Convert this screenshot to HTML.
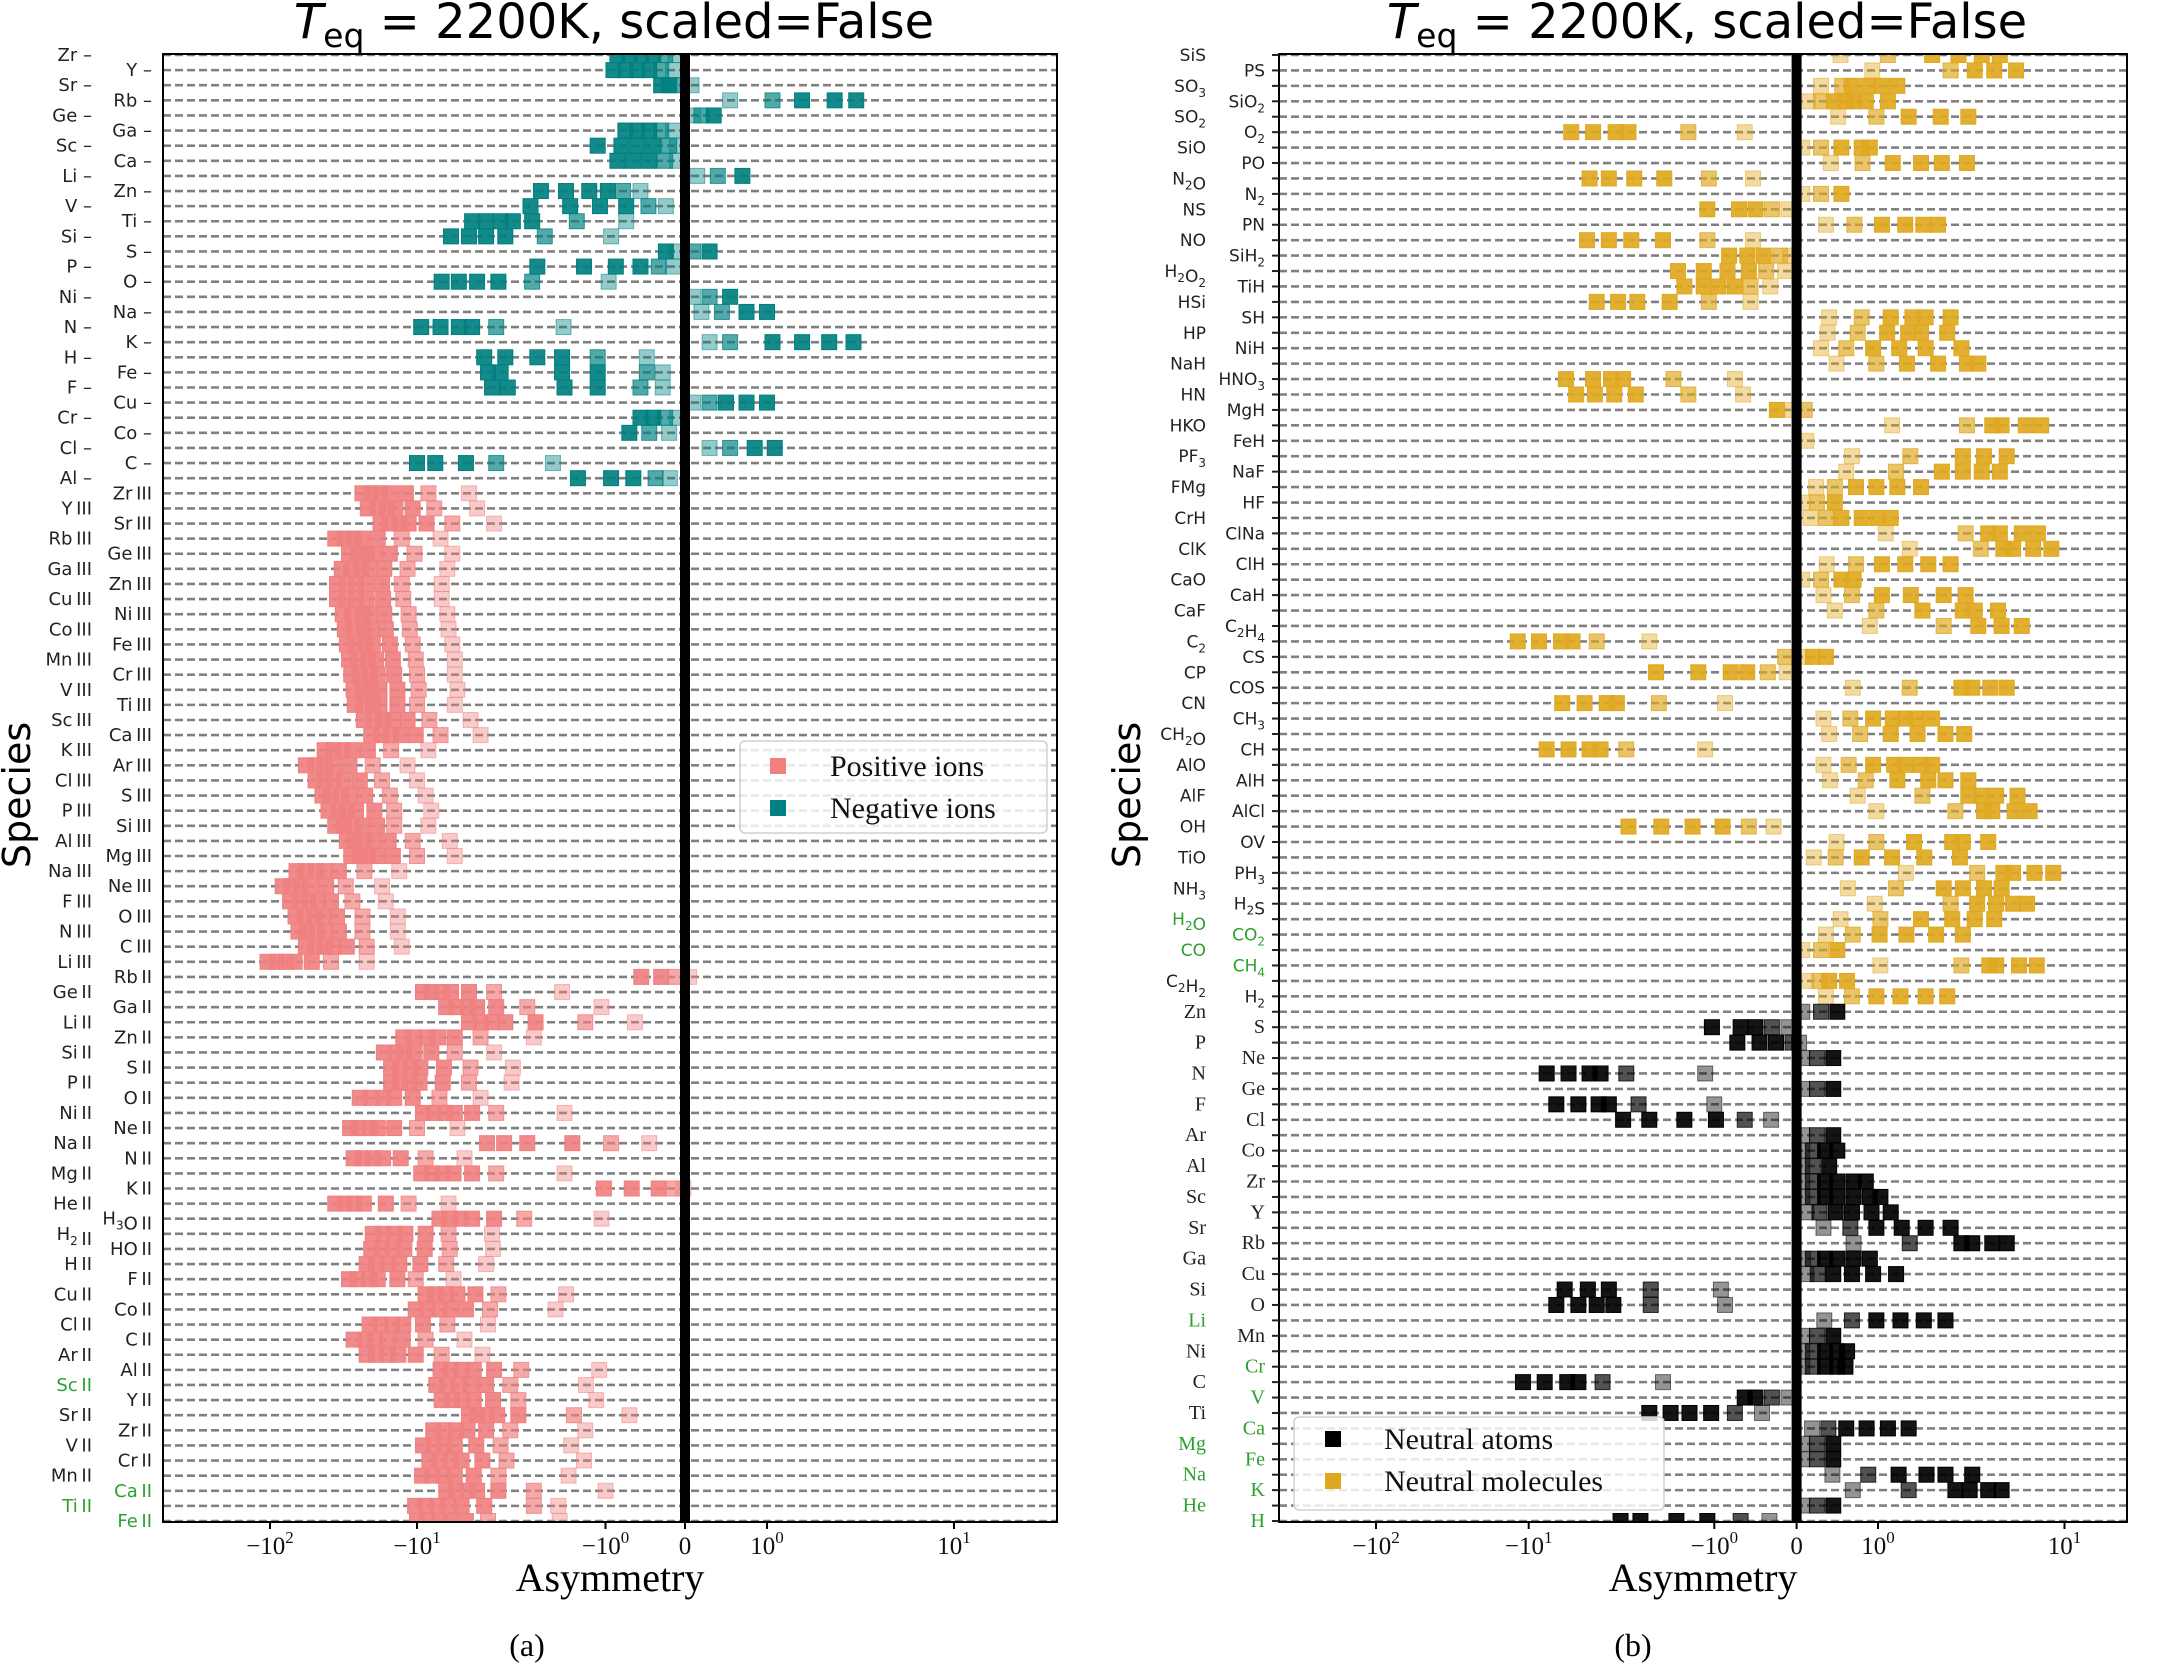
<!DOCTYPE html>
<html><head><meta charset="utf-8"><style>
html,body{margin:0;padding:0;background:#fff;}
svg{display:block;}
</style></head>
<body>
<svg id="fig" xmlns="http://www.w3.org/2000/svg" width="2170" height="1666" viewBox="0 0 2170 1666">
<defs>
<clipPath id="clipL"><rect x="163" y="54" width="895" height="1468"/></clipPath>
<clipPath id="clipR"><rect x="1279" y="54" width="848" height="1468"/></clipPath>
</defs>
<g id="panelA"></g>
<g id="panelB"></g>
</svg>
<script>
// ---------- DATA: panel (a) ----------
const leftLabels = ["Zr","Y","Sr","Rb","Ge","Ga","Sc","Ca","Li","Zn","V","Ti","Si","S","P","O","Ni","Na","N","K","H","Fe","F","Cu","Cr","Co","Cl","C","Al",
"Zr III","Y III","Sr III","Rb III","Ge III","Ga III","Zn III","Cu III","Ni III","Co III","Fe III","Mn III","Cr III","V III","Ti III","Sc III","Ca III","K III","Ar III","Cl III","S III","P III","Si III","Al III","Mg III","Na III","Ne III","F III","O III","N III","C III","Li III",
"Rb II","Ge II","Ga II","Li II","Zn II","Si II","S II","P II","O II","Ni II","Ne II","Na II","N II","Mg II","K II","He II","H3O II","H2 II","HO II","H II","F II","Cu II","Co II","Cl II","C II","Ar II","Al II","Sc II","Y II","Sr II","Zr II","V II","Cr II","Mn II","Ca II","Ti II","Fe II"];
const leftNegCount = 29;
const leftGreen = ["Sc II","Ca II","Ti II","Fe II"];
const leftValues = [
[-0.85,-0.7,-0.55,-0.4,-0.25,-0.12],[-0.9,-0.75,-0.6,-0.45,-0.3,-0.15],[-0.3,-0.2,-0.1,0.08],[0.55,1.07,1.54,2.3,3.0],[0.1,0.2,0.35],
[-0.75,-0.6,-0.45,-0.3,-0.15],[-1.1,-0.8,-0.6,-0.4,-0.2,-0.1],[-0.85,-0.65,-0.45,-0.25,-0.1],[0.15,0.4,0.7],[-2.2,-1.62,-1.22,-0.97,-0.78,-0.56],
[-2.5,-1.54,-1.07,-0.74,-0.46,-0.24],[-5.1,-4.3,-3.6,-3.1,-2.45,-1.42,-0.74],[-6.6,-5.3,-4.3,-3.4,-2.1,-0.93],[-0.24,-0.1,0.1,0.3],[-2.3,-1.3,-0.87,-0.56,-0.33,-0.15],
[-7.4,-6,-4.8,-3.7,-2.45,-0.96],[0.1,0.3,0.55],[0.2,0.45,0.75,1.0],[-9.5,-7.5,-6.0,-5.1,-3.8,-1.67],[0.3,0.55,1.07,1.54,2.15,2.9],
[-4.4,-3.4,-2.3,-1.7,-1.1,-0.48],[-4.2,-3.6,-1.7,-1.1,-0.48,-0.28],[-4.0,-3.3,-1.65,-1.1,-0.56,-0.28],[0.1,0.3,0.5,0.75,1.0],[-0.56,-0.4,-0.25,-0.1],
[-0.7,-0.45,-0.2],[0.3,0.55,0.85,1.1],[-10,-8,-5.5,-3.8,-1.9],[-1.4,-0.93,-0.65,-0.37,-0.19],
[-23.5,-20.4,-17.7,-15.3,-11.9,-8.7,-5.3],[-21.6,-18.5,-16,-14,-10.7,-8.1,-4.8],[-17.7,-15.3,-13.2,-11.4,-8.9,-6.5,-3.9],[-36,-31,-27,-23.5,-18.5,-12.7,-7.5],
[-29,-25,-22,-19.5,-15.3,-10.4,-6.5],[-32.5,-28,-24,-21,-16.7,-11.6,-6.9],[-35,-30,-26,-22,-17.3,-12.7,-7.4],[-35,-30,-26,-22,-17,-12.4,-7.4],
[-32,-27.5,-23.5,-21,-16.7,-11.4,-6.9],[-31,-27,-23,-20.5,-16.3,-11.2,-6.8],[-30,-26,-22.5,-20,-15.3,-10.7,-6.5],[-29,-25,-21.5,-19,-14.6,-10.2,-6.3],
[-28,-24.5,-21,-18.5,-14.3,-10,-6.3],[-27,-23.5,-20.5,-18,-13.6,-9.8,-6.1],[-26.5,-23,-20,-18,-13.6,-10,-6.3],[-23,-19.5,-17,-14.5,-11.6,-8.6,-5.2],
[-20.5,-17.5,-15,-12.8,-10.2,-7.5,-4.6],[-42.5,-37,-32,-27.5,-21.6,-15,-8.7],[-57,-49,-42.5,-37,-28.8,-20,-11.6],[-49,-42.5,-37,-31.5,-24.5,-17.3,-10],
[-44,-38.5,-33,-28.8,-22.5,-15.3,-9],[-40,-34.5,-30,-26,-19.5,-14.3,-8.4],[-36,-31.5,-27.5,-23.5,-18.7,-14.3,-8.7],[-30,-26.5,-23,-20,-15.6,-10.7,-6.7],
[-28,-24.5,-21.5,-18.7,-14.6,-10,-6.3],[-66,-57,-49,-42.5,-34,-22.8,-13.2],[-82,-71,-62,-53,-41.5,-30.5,-17.3],[-73,-63,-54.5,-47,-38.5,-27.5,-16.3],
[-67,-58,-50,-43.5,-35,-23.5,-13.5],[-64,-56,-48.5,-42,-34,-23.5,-13.5],[-57,-49,-42.5,-37,-30,-22,-12.7],[-104,-90,-78,-68,-52,-38.5,-22],
[-0.55,-0.3,-0.12,0.05],[-9.3,-8.4,-7.4,-6.6,-5.3,-3.9,-1.7],[-7,-6.2,-5.4,-4.8,-3.8,-2.6,-1.05],[-5.3,-4.6,-4,-3.4,-2.35,-1.28,-0.63],
[-12.4,-10.5,-8.8,-7.7,-6.3,-4.6,-2.4],[-16.8,-14,-12.2,-10.4,-8.4,-6.3,-3.9],[-15,-13,-11,-9.6,-7.2,-5.2,-3.1],[-15,-13,-11.2,-9.7,-7.3,-5.3,-3.15],
[-24.5,-20.5,-17,-14.3,-10.7,-7.6,-4.6],[-9.3,-8.2,-7.1,-6.3,-5.1,-3.8,-1.65],[-28.5,-25,-21,-18.5,-14.3,-10,-6.1],[-4.25,-3.45,-2.6,-1.5,-0.93,-0.45],
[-27,-23.5,-20,-17,-12.9,-9,-5.6],[-9.5,-8.3,-7.3,-6.4,-5.1,-3.8,-1.65],[-1.02,-0.67,-0.33,-0.15,-0.02],[-36,-31,-27,-23,-16.3,-11.4,-6.8],
[-7.6,-6.7,-5.9,-5.1,-3.9,-2.7,-1.05],[-20,-17,-14.3,-12,-9,-6.8,-4],[-20.5,-17.3,-14.6,-12.2,-9.1,-6.7,-3.95],[-22,-19,-15.8,-13.2,-9.6,-7,-4.3],
[-29,-25.5,-21,-18.5,-13.6,-10.2,-6.4],[-9,-8,-7,-6.1,-4.9,-3.7,-1.62],[-10.2,-8.8,-7.6,-6.6,-5.5,-4.1,-1.84],[-21,-17.6,-14.7,-12.4,-9.3,-6.9,-4.2],
[-27,-22.5,-19.4,-16,-12.5,-9,-5.6],[-22,-19,-15.8,-13.4,-10.2,-7.4,-4.5],[-7.5,-6.6,-5.8,-5,-3.9,-2.8,-1.08],[-7.9,-6.9,-6,-5.2,-4.3,-3.2,-1.27],
[-7.4,-6.5,-5.7,-5,-3.95,-2.9,-1.12],[-5.3,-4.8,-4.25,-3.75,-2.9,-1.47,-0.7],[-8.2,-7.2,-6.2,-5.4,-4.3,-3.2,-1.28],[-9.3,-8.2,-7.2,-6.3,-4.85,-3.6,-1.52],
[-8.6,-7.6,-6.6,-5.8,-4.5,-3.35,-1.3],[-9.4,-8.3,-7.2,-6.3,-5,-3.7,-1.57],[-7,-6.2,-5.4,-4.8,-3.7,-2.4,-1.0],[-10.3,-9,-7.8,-6.8,-5.8,-4.4,-2.4,-1.78],
[-10,-8.8,-7.6,-6.6,-5.5,-4.2,-1.75]
];
// ---------- DATA: panel (b) ----------
const rightLabels = ["SiS","PS","SO3","SiO2","SO2","O2","SiO","PO","N2O","N2","NS","PN","NO","SiH2","H2O2","TiH","HSi","SH","HP","NiH","NaH","HNO3","HN","MgH","HKO","FeH","PF3","NaF","FMg","HF","CrH","ClNa","ClK","ClH","CaO","CaH","CaF","C2H4","C2","CS","CP","COS","CN","CH3","CH2O","CH","AlO","AlH","AlF","AlCl","OH","OV","TiO","PH3","NH3","H2S","H2O","CO2","CO","CH4","C2H2","H2",
"Zn","S","P","Ne","N","Ge","F","Cl","Ar","Co","Al","Zr","Sc","Y","Sr","Rb","Ga","Cu","Si","O","Li","Mn","Ni","Cr","C","V","Ti","Ca","Mg","Fe","Na","K","He","H"];
const rightMolCount = 62;
const rightGreen = ["H2O","CO2","CO","CH4","Li","Cr","V","Ca","Mg","Fe","Na","K","He","H"];
const rightValues = [
[0.54,1.13,1.95,2.7,3.6,4.5],[0.93,2.45,3.3,4.2,5.5],[0.3,0.56,0.68,0.88,1.05,1.27],[0.14,0.3,0.46,0.6,0.7,0.85,1.13],[0.51,0.98,1.46,2.17,3.05],
[-5.9,-4.5,-3.4,-2.9,-1.38,-0.63],[0.07,0.3,0.55,0.8,0.9],[0.42,0.81,1.2,1.7,2.2,3.0],[-4.7,-3.7,-2.7,-1.86,-1.07,-0.53],[0.07,0.3,0.55],
[-1.09,-0.7,-0.5,-0.3,-0.1],[0.36,0.71,1.05,1.4,1.75,2.1],[-4.85,-3.7,-2.8,-1.89,-1.09,-0.53],[-0.82,-0.6,-0.4,-0.2,-0.08],[-1.57,-1.14,-0.84,-0.58,-0.37,-0.14],
[-1.45,-1.14,-0.95,-0.75,-0.56,-0.32],[-4.3,-3.3,-2.6,-1.74,-1.07,-0.56],[0.4,0.8,1.17,1.53,1.8,2.45],[0.38,0.75,1.12,1.45,1.7,2.35],[0.3,0.61,0.94,1.3,1.8,2.8],
[0.49,0.98,1.43,2.1,3.0,3.45],[-6.3,-4.5,-3.6,-3.1,-1.66,-0.75],[-5.55,-4.4,-3.46,-2.65,-1.38,-0.65],[-0.24,-0.05,0.1],[1.19,3.0,4.1,4.6,6.2,7.5],
[0.12],[0.68,1.49,2.85,3.7,4.9],[0.61,1.25,2.2,2.85,3.6,4.5],[0.24,0.47,0.73,0.98,1.27,1.7],[0.07,0.25,0.47],
[0.17,0.36,0.55,0.8,1.0,1.17],[1.1,2.95,3.9,4.5,5.9,7.2],[1.48,3.56,4.7,5.3,6.8,8.5],[0.37,0.73,1.05,1.4,1.86,2.45],[0.07,0.3,0.55,0.7],
[0.33,0.68,1.05,1.5,2.25,2.95],[0.47,0.98,1.73,2.85,3.3,4.4],[0.9,2.25,3.45,4.6,5.9],[-11.8,-8.8,-6.7,-5.8,-4.3,-2.24],[-0.14,0.05,0.2,0.36],
[-2.06,-1.22,-0.8,-0.6,-0.35,-0.12],[0.69,1.48,2.8,3.2,4.0,4.9],[-6.6,-5.0,-3.8,-3.35,-1.99,-0.87],[0.33,0.66,0.94,1.2,1.4,1.6,1.95],[0.4,0.78,1.17,1.63,2.3,2.9],
[-8.0,-6.1,-4.7,-4.1,-2.98,-1.12],[0.33,0.64,0.94,1.22,1.4,1.7,1.95],[0.41,0.85,1.27,1.86,2.3,3.05],[0.75,1.73,3.05,3.6,4.3,5.6],[0.98,2.6,3.7,4.1,5.4,6.5],
[-2.9,-1.93,-1.31,-0.9,-0.58,-0.28],[0.49,0.98,1.56,2.5,2.85,3.9],[0.21,0.48,0.8,1.19,1.77,2.75],[1.41,3.4,4.7,5.3,6.9,8.7],[0.63,1.25,2.25,2.85,3.7,4.6],
[0.96,2.45,3.4,4.3,5.3,6.3],[0.54,1.03,1.7,2.5,3.3,4.2],[0.36,0.69,1.02,1.42,2.05,2.85],[0.07,0.3,0.5],[1.03,2.8,3.95,4.3,5.7,7.1],
[0.12,0.28,0.4,0.62],[0.36,0.68,0.98,1.32,1.8,2.35],
[0.07,0.3,0.5],[-1.03,-0.68,-0.5,-0.3,-0.1],[-0.72,-0.45,-0.25,-0.05,0.03],[0.07,0.25,0.45],[-8.0,-6.1,-4.7,-4.1,-2.98,-1.12],
[0.07,0.25,0.45],[-7.1,-5.4,-4.2,-3.7,-2.56,-1.0],[-3.1,-2.24,-1.45,-0.98,-0.63,-0.31],[0.07,0.25,0.45],[0.07,0.2,0.35,0.5],
[0.07,0.2,0.4],[0.07,0.2,0.35,0.5,0.7,0.85],[0.07,0.2,0.35,0.5,0.7,0.9,1.03],[0.12,0.28,0.48,0.68,0.92,1.17],[0.33,0.66,0.98,1.34,1.8,2.45],
[0.7,1.48,2.8,3.2,4.1,4.9],[0.08,0.2,0.35,0.5,0.7,0.9],[0.12,0.26,0.45,0.68,0.94,1.25],[-6.4,-4.8,-3.7,-2.2,-0.92],[-7.1,-5.4,-4.3,-3.5,-2.2,-0.87],
[0.34,0.68,0.98,1.32,1.76,2.3],[0.07,0.25,0.45],[0.07,0.2,0.35,0.5,0.62],[0.07,0.2,0.35,0.5,0.6],[-10.9,-8.2,-6.2,-5.4,-4.0,-1.89],
[-0.63,-0.5,-0.3,-0.1],[-2.24,-1.72,-1.36,-1.04,-0.75,-0.42],[0.19,0.39,0.61,0.86,1.13,1.46],[0.07,0.25,0.45],[0.07,0.25,0.45],
[0.44,0.88,1.29,1.82,2.3,3.2],[0.69,1.46,2.6,3.1,3.9,4.6],[0.07,0.25,0.45],[-3.2,-2.5,-1.6,-1.09,-0.68,-0.33]
];
const tickValues = [-100,-10,-1,0,1,10];
const tickLabels = [["−10","2"],["−10","1"],["−10","0"],["0",""],["10","0"],["10","1"]];

// ---------- helpers ----------
const NS = "http://www.w3.org/2000/svg";
function el(tag, attrs, parent){
  const e = document.createElementNS(NS, tag);
  for (const k in attrs) e.setAttribute(k, attrs[k]);
  parent.appendChild(e);
  return e;
}
function symlog(a){
  return function(v){
    if (v >= 0){
      if (v <= 1) return a.z + v*(a.p1-a.z);
      return a.p1 + Math.log10(v)*(a.p10-a.p1);
    }
    const u = -v;
    if (u <= 1) return a.z - u*(a.z-a.n1);
    if (u <= 10) return a.n1 - Math.log10(u)*(a.n1-a.n10);
    return a.n10 - Math.log10(u/10)*(a.n10-a.n100);
  };
}
function addLabel(t, name, subDigits){
  for (const ch of name){
    const ts = document.createElementNS(NS, "tspan");
    if (subDigits && /[0-9]/.test(ch)){
      ts.setAttribute("font-size","12");
      ts.setAttribute("dy","5");
      ts.textContent = ch;
      t.appendChild(ts);
      const back = document.createElementNS(NS, "tspan");
      back.setAttribute("dy","-5");
      back.textContent = "";
      t.appendChild(back);
      continue;
    }
    ts.textContent = ch;
    t.appendChild(ts);
  }
}

function drawPanel(cfg){
  const g = document.getElementById(cfg.gid);
  const x = symlog(cfg.anchors);
  const n = cfg.labels.length;
  const rowY = i => cfg.top + i*(cfg.bottom-cfg.top)/(n-1);

  const grid = el("g", {}, g);
  
  
  for (let i=0;i<n;i++){
    const ln = el("line", {x1:cfg.left, x2:cfg.right, y1:rowY(i), y2:rowY(i), stroke:"#808080", "stroke-width":"2.6", "stroke-dasharray":"8 4"}, grid);
    
    
  }

  const marks = el("g", {"clip-path":"url(#"+cfg.clip+")"}, g);
  
  
  for (let i=0;i<n;i++){
    const vals = cfg.values[i] || [];
    const color = cfg.colorFor(i);
    const order = vals.map((v,k)=>[Math.abs(v),k]).sort((a,b)=>a[0]-b[0]).map(p=>p[1]);
    const alpha = {};
    order.forEach((k,r)=>{ alpha[k] = r===0 ? 0.42 : (r===1 ? 0.68 : 0.92); });
    vals.forEach((v,k)=>{
      const cx = x(v), cy = rowY(i);
      const r = el("rect", {x:cx-7.5, y:cy-7.5, width:15, height:15, fill:color, "fill-opacity":alpha[k], stroke:color, "stroke-opacity":Math.min(1,alpha[k]+0.1), "stroke-width":"1"}, marks);
      
      
    });
  }

  const z = el("line", {x1:x(0), x2:x(0), y1:cfg.top-1, y2:cfg.bottom+1, stroke:"#000", "stroke-width":"10"}, g);
  
  

  const fr = el("rect", {x:cfg.left, y:cfg.top-1, width:cfg.right-cfg.left, height:cfg.bottom-cfg.top+2, fill:"none", stroke:"#000", "stroke-width":"2"}, g);
  
  

  const yl = el("g", {}, g);
  
  
  for (let i=0;i<n;i++){
    const name = cfg.labels[i];
    const serif = cfg.serifFor(i);
    const t = el("text", {x:(i%2===0?cfg.colA:cfg.colB), y:rowY(i)+6, "text-anchor":"end",
      "font-family": serif ? '"Liberation Serif","DejaVu Serif",serif' : '"DejaVu Sans","Liberation Sans",sans-serif',
      "font-size": serif ? "20" : cfg.labelSize, fill: cfg.green.includes(name) ? "#2ca02c" : "#222"}, yl);
    
    
    addLabel(t, name.replace(" ", "\u2009"), true);
    if (cfg.dashFor(i)){
      const d = document.createElementNS(NS,"tspan"); d.textContent = " –"; t.appendChild(d);
    }
    if (cfg.ticks){
      const tk = el("line", {x1:cfg.left-7, x2:cfg.left, y1:rowY(i), y2:rowY(i), stroke:"#222", "stroke-width":"2"}, yl);
      
      
    }
  }

  const xt = el("g", {}, g);
  
  
  tickValues.forEach((v,k)=>{
    const px = x(v);
    const tk = el("line", {x1:px, x2:px, y1:cfg.bottom, y2:cfg.bottom+8, stroke:"#000", "stroke-width":"2"}, xt);
    
    
    const t = el("text", {x:px, y:cfg.bottom+33, "text-anchor":"middle", "font-family":'"Liberation Serif","DejaVu Serif",serif', "font-size":"25", fill:"#111"}, xt);
    
    
    const a = document.createElementNS(NS,"tspan"); a.textContent = tickLabels[k][0]; t.appendChild(a);
    if (tickLabels[k][1]){
      const s = document.createElementNS(NS,"tspan"); s.setAttribute("dy","-11"); s.setAttribute("font-size","17"); s.textContent = tickLabels[k][1]; t.appendChild(s);
    }
  });

  const cx = (cfg.left+cfg.right)/2;
  const title = el("text", {x:cx+4, y:38, "text-anchor":"middle", "font-family":'"DejaVu Sans","Liberation Sans",sans-serif', "font-size":"48", fill:"#000"}, g);
  
  
  const tT = document.createElementNS(NS,"tspan"); tT.setAttribute("font-style","italic"); tT.textContent = "T"; title.appendChild(tT);
  const tS = document.createElementNS(NS,"tspan"); tS.setAttribute("font-size","33"); tS.setAttribute("dy","9"); tS.textContent = "eq"; title.appendChild(tS);
  const tR = document.createElementNS(NS,"tspan"); tR.setAttribute("dy","-9"); tR.textContent = " = 2200K, scaled=False"; title.appendChild(tR);

  const xlab = el("text", {x:cx, y:1591, "text-anchor":"middle", "font-family":'"Liberation Serif","DejaVu Serif",serif', "font-size":"40", fill:"#000"}, g);
  
  
  xlab.textContent = "Asymmetry";

  const ylab = el("text", {x:0, y:0, transform:"translate("+cfg.ylabX+",795) rotate(-90)", "text-anchor":"middle", "font-family":'"DejaVu Sans","Liberation Sans",sans-serif', "font-size":"38", fill:"#000"}, g);
  
  
  ylab.textContent = "Species";

  const cap = el("text", {x:cfg.capX, y:1656, "text-anchor":"middle", "font-family":'"Liberation Serif","DejaVu Serif",serif', "font-size":"32", fill:"#000"}, g);
  
  
  cap.textContent = cfg.caption;

  const L = cfg.legend;
  const lg = el("g", {}, g);
  
  
  el("rect", {x:L.x, y:L.y, width:L.w, height:L.h, rx:5, fill:"#fff", "fill-opacity":"0.82", stroke:"#d0d0d0", "stroke-width":"1.5"}, lg);
  L.items.forEach((it,k)=>{
    const yy = L.y + L.first + k*L.gap;
    const sw = el("rect", {x:L.mx-8, y:yy-8, width:16, height:16, fill:it[1]}, lg);
    
    
    const tx = el("text", {x:L.tx, y:yy+10, "font-family":'"Liberation Serif","DejaVu Serif",serif', "font-size":"30", fill:"#111"}, lg);
    
    
    tx.textContent = it[0];
  });
}

const slugify = s => s.toLowerCase().replace(/\s+/g,"-");

drawPanel({
  gid:"panelA", clip:"clipL", left:163, right:1057, top:55, bottom:1521,
  anchors:{n100:270, n10:417, n1:605.5, z:685, p1:767, p10:954},
  labels:leftLabels, values:leftValues, slug:leftLabels.map(slugify),
  colorFor:i => i < leftNegCount ? "#008080" : "#f08080",
  serifFor:i => false, dashFor:i => i < leftNegCount, ticks:false, labelSize:"18",
  green:leftGreen, colA:92, colB:152, ylabX:30, capX:527, caption:"(a)",
  legend:{x:740, y:741, w:307, h:92, first:25, gap:42, mx:778, tx:830, items:[["Positive ions","#f08080"],["Negative ions","#008080"]]}
});
drawPanel({
  gid:"panelB", clip:"clipR", left:1279, right:2127, top:55, bottom:1521,
  anchors:{n100:1376, n10:1528.7, n1:1714.3, z:1796.6, p1:1878, p10:2064.5},
  labels:rightLabels, values:rightValues, slug:rightLabels.map(slugify),
  colorFor:i => i < rightMolCount ? "#dfa820" : "#000000",
  serifFor:i => i >= rightMolCount, dashFor:i => false, ticks:true, labelSize:"17",
  green:rightGreen, colA:1206, colB:1265, ylabX:1140, capX:1633, caption:"(b)",
  legend:{x:1294, y:1417, w:370, h:93, first:22, gap:42, mx:1333, tx:1384, items:[["Neutral atoms","#000000"],["Neutral molecules","#dfa820"]]}
});
</script>
</body></html>
